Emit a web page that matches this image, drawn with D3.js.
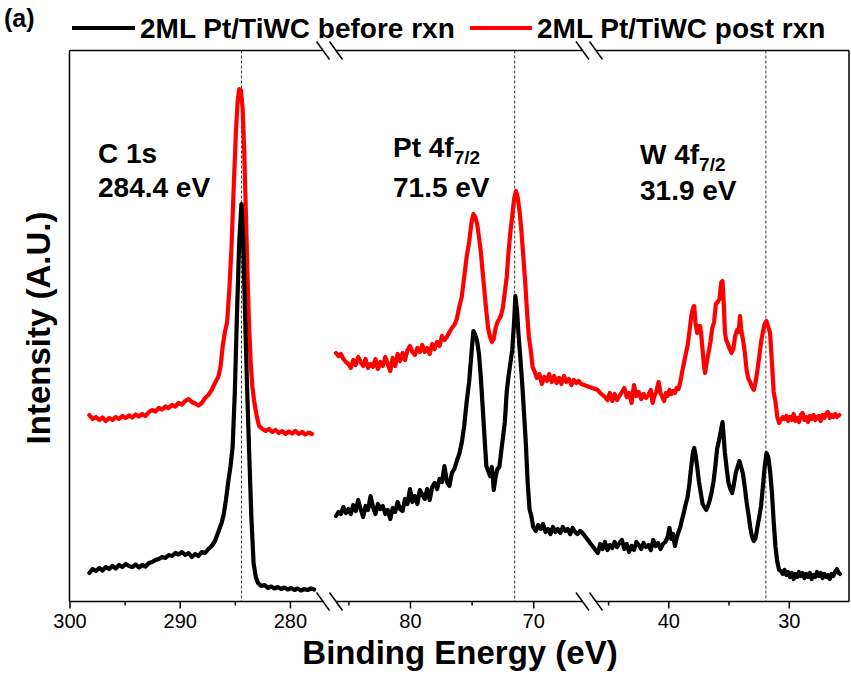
<!DOCTYPE html>
<html>
<head>
<meta charset="utf-8">
<script src="https://cdn.jsdelivr.net/npm/d3@7"></script>
<style>
  body { margin: 0; background: #fff; }
  svg { display: block; font-family: "Liberation Sans", Arial, sans-serif; }
</style>
</head>
<body>
<div id="chart"></div>
<script>
// 三段断轴: C 1s / Pt 4f / W 4f
const segDomains = [[300, 277], [86, 66], [46, 25]];
const majorTicks = [[300, 290, 280], [80, 70], [40, 30]];
const minorTicks = [[295, 285], [85, 75], [45, 35]];
const refLines = [284.4, 71.5, 31.9];
const seriesNames = ["2ML Pt/TiWC before rxn", "2ML Pt/TiWC post rxn"];
const seriesColors = ["#000000", "#ff0000"];

// [结合能 eV, 强度 a.u.]
const c1sBefore = [[298.2,58],[297.9,66],[297.6,62],[297.3,68],[297.0,63],[296.7,70],[296.4,66],[296.1,72],[295.8,67],[295.5,74],[295.2,70],[294.9,76],[294.6,72],[294.3,70],[294.0,75],[293.7,69],[293.4,74],[293.1,71],[292.8,78],[292.5,80],[292.2,84],[291.9,86],[291.6,90],[291.3,88],[291.0,94],[290.7,92],[290.4,98],[290.1,95],[289.8,100],[289.5,94],[289.2,98],[288.9,90],[288.6,96],[288.3,92],[288.0,100],[287.7,98],[287.4,106],[287.1,112],[286.8,122],[286.5,140],[286.2,158],[286.0,176],[285.8,205],[285.6,240],[285.4,270],[285.2,310],[285.0,420],[284.8,580],[284.6,720],[284.4,796],[284.25,730],[284.1,600],[283.9,438],[283.7,300],[283.5,170],[283.3,78],[283.1,50],[282.9,38],[282.6,32],[282.3,34],[282.0,28],[281.7,31],[281.4,27],[281.1,30],[280.8,26],[280.5,29],[280.2,25],[279.9,28],[279.6,24],[279.3,27],[279.0,23],[278.7,26],[278.4,24],[278.1,27],[277.8,25]];
const c1sPost = [[298.2,374],[297.9,366],[297.6,370],[297.3,364],[297.0,369],[296.7,362],[296.4,368],[296.1,364],[295.8,370],[295.5,366],[295.2,372],[294.9,368],[294.6,373],[294.3,369],[294.0,375],[293.7,371],[293.4,376],[293.1,372],[292.8,380],[292.5,384],[292.2,381],[291.9,388],[291.6,385],[291.3,391],[291.0,388],[290.7,394],[290.4,391],[290.1,398],[289.8,395],[289.5,402],[289.2,406],[288.9,400],[288.6,397],[288.3,393],[288.0,398],[287.7,408],[287.4,414],[287.1,424],[286.8,438],[286.5,450],[286.3,470],[286.1,512],[285.9,540],[285.7,560],[285.5,624],[285.3,710],[285.1,830],[284.9,940],[284.75,1000],[284.6,1026],[284.45,1024],[284.3,990],[284.15,904],[284.0,780],[283.85,654],[283.7,550],[283.55,474],[283.4,430],[283.25,402],[283.0,370],[282.8,352],[282.5,346],[282.2,342],[281.9,346],[281.6,340],[281.3,344],[281.0,338],[280.7,342],[280.4,336],[280.1,341],[279.8,337],[279.5,342],[279.2,336],[278.9,340],[278.6,335],[278.3,339],[278.0,336]];

const pt4fBefore = [[86.0,172],[85.8,180],[85.6,176],[85.4,190],[85.2,178],[85.0,186],[84.8,176],[84.6,194],[84.4,182],[84.2,204],[84.0,186],[83.8,170],[83.6,192],[83.4,184],[83.2,212],[83.0,190],[82.8,176],[82.6,196],[82.4,186],[82.2,192],[82.0,176],[81.8,184],[81.6,166],[81.4,188],[81.2,180],[81.0,200],[80.8,186],[80.6,182],[80.4,206],[80.2,196],[80.0,226],[79.8,200],[79.6,212],[79.4,196],[79.2,224],[79.0,214],[78.8,206],[78.6,226],[78.4,204],[78.2,230],[78.0,238],[77.8,226],[77.6,246],[77.4,240],[77.2,272],[77.0,240],[76.8,232],[76.6,258],[76.4,266],[76.2,282],[76.0,296],[75.8,318],[75.6,352],[75.4,400],[75.2,440],[75.0,500],[74.85,542],[74.7,534],[74.55,522],[74.4,496],[74.25,450],[74.1,390],[73.95,330],[73.8,272],[73.65,262],[73.5,252],[73.35,270],[73.2,224],[73.05,250],[72.9,266],[72.75,270],[72.6,300],[72.45,330],[72.3,360],[72.15,420],[72.0,452],[71.85,478],[71.7,504],[71.55,560],[71.45,612],[71.3,580],[71.2,538],[71.05,490],[70.9,440],[70.75,380],[70.6,318],[70.45,240],[70.3,186],[70.15,172],[70.0,150],[69.8,142],[69.6,154],[69.4,146],[69.2,156],[69.0,140],[68.8,146],[68.6,136],[68.4,150],[68.2,140],[68.0,146],[67.8,138],[67.6,150],[67.4,142],[67.2,146],[67.0,136],[66.8,148],[66.6,140],[66.4,136],[66.2,142],[66.0,138]];
const pt4fPost = [[86.0,498],[85.8,492],[85.6,496],[85.4,486],[85.2,480],[85.0,476],[84.8,468],[84.6,484],[84.4,474],[84.2,490],[84.0,480],[83.8,472],[83.6,486],[83.4,468],[83.2,476],[83.0,470],[82.8,486],[82.6,466],[82.4,480],[82.2,472],[82.0,490],[81.8,476],[81.6,462],[81.4,488],[81.2,472],[81.0,496],[80.8,482],[80.6,498],[80.4,484],[80.2,504],[80.0,512],[79.8,500],[79.6,494],[79.4,508],[79.2,500],[79.0,514],[78.8,500],[78.6,508],[78.4,496],[78.2,516],[78.0,506],[77.8,520],[77.6,512],[77.4,532],[77.2,524],[77.0,530],[76.8,540],[76.6,548],[76.4,554],[76.2,566],[76.0,590],[75.8,610],[75.6,650],[75.4,690],[75.2,720],[75.0,760],[74.85,776],[74.7,770],[74.55,756],[74.4,730],[74.25,700],[74.1,660],[73.95,620],[73.8,580],[73.65,546],[73.5,530],[73.35,520],[73.2,526],[73.05,548],[72.9,560],[72.75,566],[72.6,574],[72.45,590],[72.3,620],[72.15,650],[72.0,700],[71.85,740],[71.7,772],[71.55,806],[71.4,822],[71.25,808],[71.1,780],[70.95,740],[70.8,690],[70.65,640],[70.5,580],[70.35,530],[70.2,504],[70.05,470],[69.9,462],[69.7,448],[69.5,456],[69.3,436],[69.1,450],[68.9,442],[68.7,456],[68.5,440],[68.3,452],[68.1,438],[67.9,448],[67.7,436],[67.5,452],[67.3,440],[67.1,446],[66.9,434],[66.7,444],[66.5,438],[66.3,442],[66.1,436]];

const w4fBefore = [[45.85,98],[45.65,116],[45.45,106],[45.25,120],[45.05,104],[44.85,114],[44.65,108],[44.45,120],[44.25,110],[44.05,118],[43.85,124],[43.65,106],[43.45,116],[43.25,100],[43.05,112],[42.85,104],[42.65,120],[42.45,114],[42.25,106],[42.05,118],[41.85,110],[41.65,114],[41.45,104],[41.25,124],[41.05,112],[40.85,118],[40.65,106],[40.45,116],[40.25,120],[40.05,130],[39.9,148],[39.75,126],[39.6,136],[39.45,112],[39.3,128],[39.15,140],[39.0,150],[38.85,166],[38.7,180],[38.55,196],[38.4,210],[38.25,236],[38.1,270],[37.95,300],[37.85,308],[37.75,296],[37.6,270],[37.45,240],[37.3,218],[37.15,196],[37.0,190],[36.85,184],[36.7,192],[36.55,204],[36.4,220],[36.25,240],[36.1,270],[35.95,306],[35.8,322],[35.65,340],[35.5,360],[35.4,330],[35.3,298],[35.15,266],[35.0,238],[34.85,226],[34.7,218],[34.55,236],[34.4,258],[34.25,270],[34.1,282],[33.95,270],[33.8,256],[33.65,230],[33.5,200],[33.35,176],[33.2,150],[33.05,130],[32.9,122],[32.75,128],[32.6,150],[32.45,170],[32.3,192],[32.15,230],[32.0,270],[31.85,298],[31.7,290],[31.55,262],[31.4,220],[31.25,160],[31.1,110],[30.95,80],[30.8,64],[30.65,62],[30.5,56],[30.35,64],[30.2,54],[30.05,60],[29.9,50],[29.75,58],[29.6,46],[29.45,56],[29.3,50],[29.15,60],[29.0,52],[28.85,58],[28.7,48],[28.55,56],[28.4,50],[28.25,58],[28.1,46],[27.95,54],[27.8,50],[27.65,60],[27.5,52],[27.35,58],[27.2,48],[27.05,56],[26.9,50],[26.75,54],[26.6,46],[26.45,56],[26.3,52],[26.15,60],[26.0,66],[25.85,58],[25.75,56]];
const w4fPost = [[45.85,424],[45.65,418],[45.45,414],[45.25,410],[45.05,404],[44.85,418],[44.65,402],[44.45,416],[44.25,404],[44.05,412],[43.85,420],[43.65,428],[43.45,410],[43.25,418],[43.05,398],[42.85,434],[42.65,412],[42.45,420],[42.25,406],[42.05,416],[41.85,408],[41.65,414],[41.45,424],[41.3,398],[41.15,412],[41.0,420],[40.8,440],[40.65,418],[40.5,410],[40.35,402],[40.2,418],[40.05,412],[39.9,424],[39.75,416],[39.6,422],[39.45,418],[39.3,428],[39.15,426],[39.0,440],[38.85,460],[38.7,478],[38.55,496],[38.4,512],[38.25,540],[38.1,570],[37.95,588],[37.85,592],[37.75,560],[37.6,538],[37.45,552],[37.35,552],[37.25,530],[37.15,504],[37.05,476],[36.95,458],[36.8,480],[36.65,500],[36.5,520],[36.35,548],[36.2,560],[36.05,596],[35.9,600],[35.75,606],[35.6,640],[35.5,642],[35.4,600],[35.3,540],[35.2,524],[35.05,516],[34.9,506],[34.75,498],[34.6,506],[34.45,532],[34.3,544],[34.15,540],[34.05,572],[33.95,546],[33.8,524],[33.65,500],[33.5,464],[33.35,446],[33.2,440],[33.05,430],[32.9,424],[32.75,440],[32.6,464],[32.45,490],[32.3,520],[32.15,540],[32.0,556],[31.85,562],[31.7,550],[31.55,538],[31.4,480],[31.25,420],[31.1,400],[30.95,370],[30.8,358],[30.65,364],[30.5,370],[30.35,366],[30.2,372],[30.05,362],[29.9,370],[29.75,364],[29.6,376],[29.45,362],[29.3,368],[29.15,360],[29.0,374],[28.85,378],[28.7,364],[28.55,370],[28.4,360],[28.25,372],[28.1,366],[27.95,374],[27.8,364],[27.65,370],[27.5,372],[27.35,362],[27.2,374],[27.05,368],[26.9,376],[26.75,380],[26.6,368],[26.45,374],[26.3,370],[26.15,376],[26.0,370],[25.8,374]];

const width = 851, height = 677;
const plotTop = 50.5, plotBottom = 601.5, plotLeft = 69.5, plotRight = 849;
const segRanges = [[plotLeft, 323], [336, 582.5], [596, plotRight]];

const svg = d3.select("#chart").append("svg")
    .attr("width", width)
    .attr("height", height);

const xs = segDomains.map((d, i) => d3.scaleLinear().domain(d).range(segRanges[i]));
const y = d3.scaleLinear().domain([0, 1100]).range([602, 52]);

// 按能量选择所在分段
function xPos(e) {
  const i = segDomains.findIndex(d => e <= d[0] && e >= d[1]);
  return xs[i < 0 ? 0 : i](e);
}

// 参考虚线
svg.append("g").selectAll("line")
    .data(refLines)
    .join("line")
    .attr("x1", d => xPos(d)).attr("x2", d => xPos(d))
    .attr("y1", plotTop).attr("y2", plotBottom)
    .attr("stroke", "#333")
    .attr("stroke-width", 1)
    .attr("stroke-dasharray", "3,2");

// 曲线 (红色在下, 黑色在上)
const line = d3.line().x(d => xPos(d[0])).y(d => y(d[1]));
const curves = [
  { data: c1sPost, color: seriesColors[1] },
  { data: pt4fPost.concat(w4fPost), color: seriesColors[1] },
  { data: c1sBefore, color: seriesColors[0] },
  { data: pt4fBefore.concat(w4fBefore), color: seriesColors[0] }
];
svg.append("g").selectAll("path")
    .data(curves)
    .join("path")
    .attr("d", d => line(d.data))
    .attr("fill", "none")
    .attr("stroke", d => d.color)
    .attr("stroke-width", 4.2)
    .attr("stroke-linejoin", "round")
    .attr("stroke-linecap", "round");

// 坐标轴
xs.forEach((x, i) => {
  const gMaj = svg.append("g")
      .attr("transform", `translate(0,${plotBottom})`)
      .call(d3.axisBottom(x).tickValues(majorTicks[i]).tickSize(7).tickSizeOuter(0).tickPadding(5));
  gMaj.select(".domain").remove();
  gMaj.selectAll("line").attr("stroke-width", 1.5);
  gMaj.selectAll("text")
      .style("font-family", "'Liberation Sans', Arial, sans-serif")
      .style("font-size", "20px")
      .attr("fill", "#000");

  const gMin = svg.append("g")
      .attr("transform", `translate(0,${plotBottom})`)
      .call(d3.axisBottom(x).tickValues(minorTicks[i]).tickSize(4).tickSizeOuter(0).tickFormat(""));
  gMin.select(".domain").remove();
  gMin.selectAll("line").attr("stroke-width", 1.5);

  // 上下轴线
  [plotTop, plotBottom].forEach(yy => {
    svg.append("line")
        .attr("x1", segRanges[i][0]).attr("x2", segRanges[i][1])
        .attr("y1", yy).attr("y2", yy)
        .attr("stroke", "#000").attr("stroke-width", 1.5);
  });
});

// 左右轴线
[plotLeft, plotRight].forEach(xx => {
  svg.append("line")
      .attr("x1", xx).attr("x2", xx)
      .attr("y1", plotTop).attr("y2", plotBottom)
      .attr("stroke", "#000").attr("stroke-width", 1.5);
});

// 断轴标记
const breakXs = [segRanges[0][1], segRanges[1][0], segRanges[1][1], segRanges[2][0]];
breakXs.forEach(bx => {
  [plotTop, plotBottom].forEach(by => {
    svg.append("line")
        .attr("x1", bx - 6.5).attr("y1", by - 9)
        .attr("x2", bx + 6.5).attr("y2", by + 9)
        .attr("stroke", "#000").attr("stroke-width", 1.5);
  });
});

// 轴标题
svg.append("text")
    .attr("x", 460).attr("y", 664)
    .attr("text-anchor", "middle")
    .style("font-size", "33px").style("font-weight", "bold")
    .text("Binding Energy (eV)");

svg.append("text")
    .attr("transform", `translate(50,328) rotate(-90)`)
    .attr("text-anchor", "middle")
    .style("font-size", "33px").style("font-weight", "bold")
    .text("Intensity (A.U.)");

svg.append("text")
    .attr("x", 4).attr("y", 27)
    .style("font-size", "25px").style("font-weight", "bold")
    .text("(a)");

// 图例
const legendX = [[72, 135, 140], [470, 532, 537]];
seriesNames.forEach((name, i) => {
  svg.append("line")
      .attr("x1", legendX[i][0]).attr("x2", legendX[i][1])
      .attr("y1", 28).attr("y2", 28)
      .attr("stroke", seriesColors[i]).attr("stroke-width", 4);
  svg.append("text")
      .attr("x", legendX[i][2]).attr("y", 38)
      .style("font-size", "28px").style("font-weight", "bold")
      .text(name);
});

// 峰位标注
const labels = [
  { x: 98, y1: 163, main: "C 1s", sub: null, ev: "284.4 eV", y2: 197 },
  { x: 393, y1: 157, main: "Pt 4f", sub: "7/2", ev: "71.5 eV", y2: 197 },
  { x: 640, y1: 164, main: "W 4f", sub: "7/2", ev: "31.9 eV", y2: 200 }
];
labels.forEach(l => {
  const t = svg.append("text")
      .attr("x", l.x).attr("y", l.y1)
      .style("font-size", "28px").style("font-weight", "bold");
  t.append("tspan").text(l.main);
  if (l.sub) {
    t.append("tspan").attr("dy", 7).style("font-size", "19px").text(l.sub);
  }
  svg.append("text")
      .attr("x", l.x).attr("y", l.y2)
      .style("font-size", "28px").style("font-weight", "bold")
      .text(l.ev);
});
</script>
</body>
</html>
